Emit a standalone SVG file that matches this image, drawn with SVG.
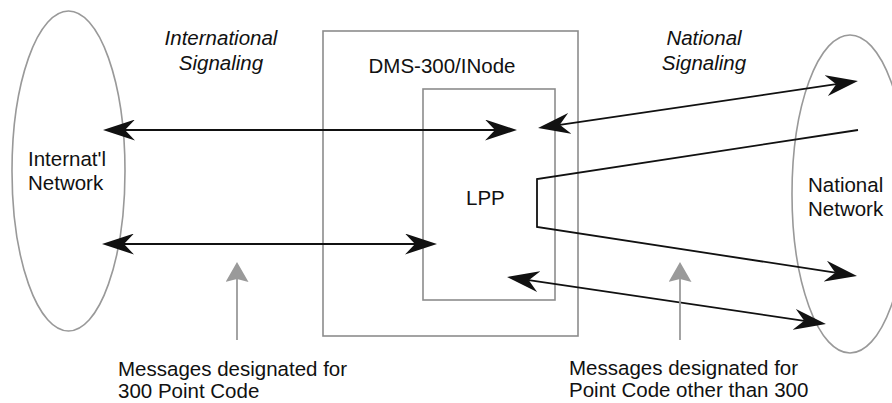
<svg xmlns="http://www.w3.org/2000/svg" width="892" height="403" viewBox="0 0 892 403">
<style>
  text { font-family: "Liberation Sans", Arial, sans-serif; font-size: 20.5px; fill: #111; }
  .it { font-style: italic; }
  .net { fill: none; stroke: #999; stroke-width: 1.6; }
  .box { fill: none; stroke: #8c8c8c; stroke-width: 1.6; }
  .conn { fill: none; stroke: #111; stroke-width: 1.8; }
  .gray { fill: none; stroke: #9a9a9a; stroke-width: 1.8; }
</style>
<defs>
  <marker id="ah" markerUnits="userSpaceOnUse" viewBox="0 0 32 21" refX="10" refY="10.5" markerWidth="32" markerHeight="21" orient="auto-start-reverse">
    <path d="M32,10.5 L0,0 L10,10.5 L0,21 Z" fill="#111"/>
  </marker>
  <marker id="gh" markerUnits="userSpaceOnUse" viewBox="0 0 20 23" refX="3" refY="11.5" markerWidth="20" markerHeight="23" orient="auto">
    <path d="M20,11.5 L0,0 L3,11.5 L0,23 Z" fill="#9a9a9a"/>
  </marker>
</defs>

<g id="intl-network">
  <ellipse class="net" cx="68.5" cy="171" rx="56.5" ry="160"/>
  <text x="28" y="166">Internat'l</text>
  <text x="28" y="190">Network</text>
</g>

<g id="national-network">
  <ellipse class="net" cx="850" cy="194" rx="58" ry="159"/>
  <text x="808" y="192">National</text>
  <text x="808" y="216">Network</text>
</g>

<g id="dms">
  <rect class="box" x="323" y="31" width="255" height="305"/>
  <text x="442" y="73" text-anchor="middle">DMS-300/INode</text>
</g>

<g id="lpp">
  <rect class="box" x="423" y="89" width="132" height="211"/>
  <text x="466" y="205">LPP</text>
</g>

<g id="labels">
  <text class="it" x="221" y="45" text-anchor="middle">International</text>
  <text class="it" x="221" y="70" text-anchor="middle">Signaling</text>
  <text class="it" x="704" y="45" text-anchor="middle">National</text>
  <text class="it" x="704" y="70" text-anchor="middle">Signaling</text>
  <text x="118" y="376">Messages designated for</text>
  <text x="118" y="398">300 Point Code</text>
  <text x="569" y="375">Messages designated for</text>
  <text x="569" y="397">Point Code other than 300</text>
</g>

<g id="connectors">
  <line class="conn" x1="125" y1="130" x2="495" y2="130" marker-start="url(#ah)" marker-end="url(#ah)"/>
  <line class="conn" x1="124" y1="244" x2="415" y2="244" marker-start="url(#ah)" marker-end="url(#ah)"/>
  <line class="conn" x1="559.8" y1="124.8" x2="836.2" y2="84.2" marker-start="url(#ah)" marker-end="url(#ah)"/>
  <polyline class="conn" points="858,130 537,179 537,227 835.25,272.67" marker-end="url(#ah)"/>
  <line class="conn" x1="528.8" y1="280.2" x2="804.2" y2="320.8" marker-start="url(#ah)" marker-end="url(#ah)"/>
  <line class="gray" x1="237" y1="340" x2="237" y2="279" marker-end="url(#gh)"/>
  <line class="gray" x1="680" y1="340" x2="680" y2="279" marker-end="url(#gh)"/>
</g>
</svg>
